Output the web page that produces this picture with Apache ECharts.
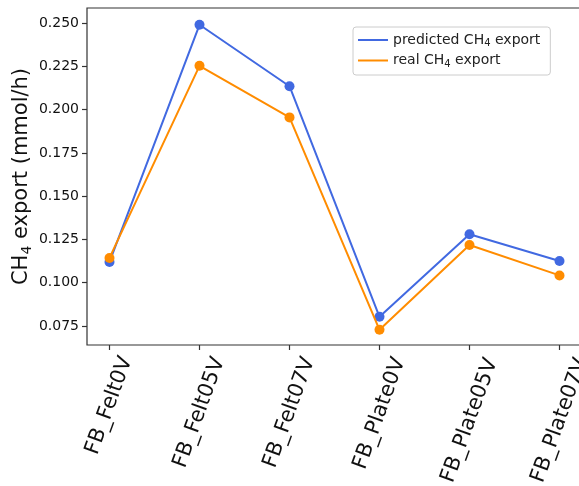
<!DOCTYPE html>
<html>
<head>
<meta charset="utf-8">
<script src="https://cdn.jsdelivr.net/npm/echarts@6/dist/echarts.min.js"></script>
<style>
  html, body { margin: 0; padding: 0; background: #fff; }
  #chart { width: 579px; height: 486px; }
</style>
</head>
<body>
<div id="chart"></div>
<script>
// categories on the x axis
const categories = ['FB_Felt0V', 'FB_Felt05V', 'FB_Felt07V', 'FB_Plate0V', 'FB_Plate05V', 'FB_Plate07V'];
// CH4 export values (mmol/h)
const predicted = [0.112, 0.249, 0.2135, 0.0803, 0.1280, 0.1125];
const real = [0.1143, 0.2253, 0.1955, 0.0728, 0.1218, 0.1042];
const seriesNames = ['predicted CH4 export', 'real CH4 export'];
const yTicks = [0.075, 0.100, 0.125, 0.150, 0.175, 0.200, 0.225, 0.250];
const xTicks = [0, 1, 2, 3, 4, 5];

const font = 'DejaVu Sans';
const xLabelSize = 21;

// turn "CH4" into rich text with a subscript 4
function sub(str, key) {
  return str.split('CH4').map(s => '{' + key + '|' + s + '}').join('{' + key + '|CH}{s|4}');
}

// matplotlib centres a rotated label's box under its tick; echarts hangs it
// from its end, so push each label sideways with top padding sized to its width
const ctx = document.createElement('canvas').getContext('2d');
ctx.font = xLabelSize + 'px "' + font + '"';
const xRich = {};
categories.forEach((c, i) => {
  const w = ctx.measureText(c).width;
  xRich['c' + i] = {
    fontFamily: font,
    fontSize: xLabelSize,
    color: '#111',
    padding: [Math.round(w * 0.364), 0, 0, 0]
  };
});

const chart = echarts.init(document.getElementById('chart'));

const option = {
  animation: false,
  backgroundColor: '#fff',
  grid: {
    left: 87,
    top: 8,
    right: -3,
    bottom: 141,
    containLabel: false,
    outerBoundsMode: 'none',
    show: true,
    borderColor: '#333',
    borderWidth: 1.2
  },
  legend: {
    data: seriesNames,
    orient: 'vertical',
    left: 353,
    top: 27,
    icon: 'rect',
    itemWidth: 30,
    itemHeight: 2,
    itemGap: 5,
    padding: [6, 10, 6, 5],
    borderColor: '#ccc',
    borderWidth: 1,
    borderRadius: 3,
    formatter: name => sub(name, 'a'),
    textStyle: {
      fontFamily: font,
      color: '#222',
      rich: {
        a: { fontFamily: font, fontSize: 14, color: '#222' },
        s: { fontFamily: font, fontSize: 10, color: '#222', padding: [7, 0, 0, 0] }
      }
    }
  },
  xAxis: {
    type: 'value',
    min: -0.25,
    max: 5.25,
    splitLine: { show: false },
    axisLine: { show: false, onZero: false },
    axisTick: {
      show: true,
      customValues: xTicks,
      length: 5,
      lineStyle: { color: '#333', width: 1.2 }
    },
    axisLabel: {
      customValues: xTicks,
      rotate: 70,
      margin: 6,
      fontFamily: font,
      fontSize: xLabelSize,
      color: '#111',
      formatter: v => {
        const i = Math.round(v);
        return '{c' + i + '|' + categories[i] + '}';
      },
      rich: xRich
    }
  },
  yAxis: {
    type: 'value',
    min: 0.064,
    max: 0.2587,
    splitLine: { show: false },
    axisLine: { show: false, onZero: false },
    axisTick: {
      show: true,
      customValues: yTicks,
      length: 5,
      lineStyle: { color: '#333', width: 1.2 }
    },
    axisLabel: {
      customValues: yTicks,
      margin: 8,
      fontFamily: font,
      fontSize: 14,
      color: '#111',
      formatter: v => v.toFixed(3)
    },
    name: '{a|CH}{s|4}{a| export (mmol/h)}',
    nameLocation: 'middle',
    nameGap: 53,
    nameMoveOverlap: false,
    nameTextStyle: {
      rich: {
        a: { fontFamily: font, fontSize: 21, color: '#111' },
        s: { fontFamily: font, fontSize: 14, color: '#111', padding: [10, 0, 0, 0] }
      }
    }
  },
  series: [
    {
      name: seriesNames[0],
      type: 'line',
      data: predicted.map((v, i) => [i, v]),
      symbol: 'circle',
      symbolSize: 10,
      lineStyle: { color: '#4169E1', width: 2 },
      itemStyle: { color: '#4169E1' },
      z: 2
    },
    {
      name: seriesNames[1],
      type: 'line',
      data: real.map((v, i) => [i, v]),
      symbol: 'circle',
      symbolSize: 10,
      lineStyle: { color: '#FF8C00', width: 2 },
      itemStyle: { color: '#FF8C00' },
      z: 3
    }
  ]
};

chart.setOption(option);
</script>
</body>
</html>
